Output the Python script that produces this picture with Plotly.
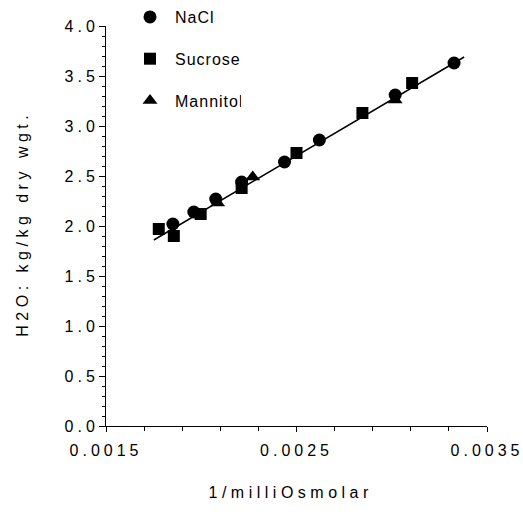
import plotly.graph_objects as go

# Data
nacl_x = [0.001851, 0.001961, 0.002076, 0.002212, 0.002437, 0.00262, 0.003018, 0.003327]
nacl_y = [2.02, 2.14, 2.27, 2.44, 2.64, 2.86, 3.31, 3.63]

sucrose_x = [0.001777, 0.001856, 0.001997, 0.002212, 0.0025, 0.002846, 0.003107]
sucrose_y = [1.97, 1.90, 2.12, 2.38, 2.73, 3.13, 3.43]

mannitol_x = [0.002086, 0.00227, 0.003018]
mannitol_y = [2.23, 2.49, 3.26]

fit_x = [0.001751, 0.00338]
fit_y = [1.86, 3.69]

x_ticks = [0.0015, 0.0025, 0.0035]
x_ticktext = ["0.0015", "0.0025", "0.0035"]
x_minor = [0.0017, 0.0019, 0.0021, 0.0023, 0.0027, 0.0029, 0.0031, 0.0033]
y_ticks = [0.0, 0.5, 1.0, 1.5, 2.0, 2.5, 3.0, 3.5, 4.0]
y_ticktext = ["0.0", "0.5", "1.0", "1.5", "2.0", "2.5", "3.0", "3.5", "4.0"]

x_title = "1/milliOsmolar"
y_title = "H2O: kg/kg dry wgt."

FONT = "Liberation Sans, Arial, sans-serif"

fig = go.Figure()
fig.add_trace(go.Scatter(x=fit_x, y=fit_y, mode="lines",
                         line=dict(color="black", width=1.5), showlegend=False,
                         hoverinfo="skip"))
fig.add_trace(go.Scatter(x=nacl_x, y=nacl_y, mode="markers", name="NaCl",
                         legendgroup="a",
                         marker=dict(symbol="circle", size=13, color="black")))
fig.add_trace(go.Scatter(x=sucrose_x, y=sucrose_y, mode="markers", name="Sucrose",
                         legendgroup="b",
                         marker=dict(symbol="square", size=12, color="black")))
fig.add_trace(go.Scatter(x=mannitol_x, y=mannitol_y, mode="markers", name="Mannitol",
                         legendgroup="c",
                         marker=dict(symbol="triangle-up", size=13, color="black")))

fig.update_layout(
    width=523, height=517,
    margin=dict(l=106, r=36, t=26, b=91, autoexpand=False),
    paper_bgcolor="white", plot_bgcolor="white",
    font=dict(family=FONT, size=16, color="black"),
    legend=dict(xref="container", yref="container", x=125/523, y=1.0 + 6/517,
                xanchor="left", yanchor="top", traceorder="grouped",
                tracegroupgap=18, itemwidth=40, font=dict(size=16),
                bgcolor="rgba(0,0,0,0)"),
    xaxis=dict(range=[0.0015, 0.0035], tickvals=x_ticks, ticktext=x_ticktext,
               showgrid=False, zeroline=False, showline=True, linecolor="black",
               linewidth=1, ticks="outside", ticklen=5, tickcolor="black",
               ticklabelstandoff=5,
               minor=dict(tickvals=x_minor,
                          ticks="outside", ticklen=4, tickcolor="black")),
    yaxis=dict(range=[0, 4.0], tickvals=y_ticks, ticktext=y_ticktext,
               showgrid=False, zeroline=False, showline=True, linecolor="black",
               linewidth=1, ticks="outside", ticklen=6, tickcolor="black",
               ticklabelstandoff=-3,
               minor=dict(dtick=0.1, tick0=0, ticks="outside", ticklen=3,
                          tickcolor="black")),
    annotations=[
        dict(text=x_title, xref="paper", yref="paper",
             x=(291 - 106) / 381, y=(426 - 492) / 400,
             xanchor="center", yanchor="middle", showarrow=False,
             font=dict(size=16)),
        dict(text=y_title, xref="paper", yref="paper",
             x=(22 - 106) / 381, y=(426 - 224) / 400, textangle=-90,
             xanchor="center", yanchor="middle", showarrow=False,
             font=dict(size=16)),
    ],
)

post = """
var gd = document.getElementById('{plot_id}');
gd.querySelectorAll('.xtick text, .ytick text').forEach(function(t){t.style.letterSpacing='4px';});
gd.querySelectorAll('.annotation-text').forEach(function(t){t.style.letterSpacing='4.5px';});
gd.querySelectorAll('.legendtext').forEach(function(t){t.style.letterSpacing='1px';});
"""

fig.write_html("out.html", post_script=post)
